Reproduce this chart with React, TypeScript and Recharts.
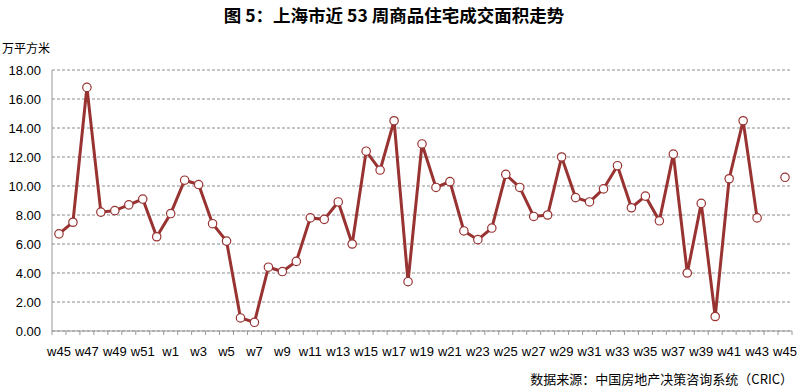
import React from "react";
import { ComposedChart, Line, XAxis, YAxis, CartesianGrid } from "recharts";

const weeks = [
  "w45", "w46", "w47", "w48", "w49", "w50", "w51", "w52",
  "w1", "w2", "w3", "w4", "w5", "w6", "w7", "w8", "w9", "w10",
  "w11", "w12", "w13", "w14", "w15", "w16", "w17", "w18", "w19", "w20",
  "w21", "w22", "w23", "w24", "w25", "w26", "w27", "w28", "w29", "w30",
  "w31", "w32", "w33", "w34", "w35", "w36", "w37", "w38", "w39", "w40",
  "w41", "w42", "w43", "w44", "w45",
];

const areas: (number | null)[] = [
  6.7, 7.5, 16.8, 8.2, 8.3, 8.7, 9.1, 6.5,
  8.1, 10.4, 10.1, 7.4, 6.2, 0.9, 0.6, 4.4, 4.1, 4.8,
  7.8, 7.7, 8.9, 6.0, 12.4, 11.1, 14.5, 3.4, 12.9, 9.9,
  10.3, 6.9, 6.3, 7.1, 10.8, 9.9, 7.9, 8.0, 12.0, 9.2,
  8.9, 9.8, 11.4, 8.5, 9.3, 7.6, 12.2, 4.0, 8.8, 1.0,
  10.5, 14.5, 7.8, null, 10.6,
];

const yTicks = [0, 2, 4, 6, 8, 10, 12, 14, 16, 18];

const data = weeks.map((w, i) => ({ week: w, pos: i + 0.5, area: areas[i] }));
// boundaries (integers) and category centres (halves)
const xTicks: number[] = [];
for (let i = 0; i <= weeks.length * 2; i++) xTicks.push(i / 2);

const lineColor = "#983332";
const axisColor = "#999999";
const font = "'Liberation Sans', Arial, sans-serif";
const cjk = "'Noto Sans CJK SC', 'Liberation Sans', sans-serif";

const WeekTick = (props: any) => {
  const { x, y, payload } = props;
  const v = payload.value as number;
  if (Number.isInteger(v)) {
    return <line x1={x} x2={x} y1={y} y2={y + 4} stroke={axisColor} strokeWidth={1} />;
  }
  const idx = Math.floor(v);
  if (idx % 2 !== 0) return <g />;
  return (
    <text x={x} y={y + 25} textAnchor="middle" fontFamily={font} fontSize={13} fill="#000">
      {weeks[idx]}
    </text>
  );
};

export default function App() {
  return (
    <div style={{ position: "absolute", left: 0, top: 0, width: 800, height: 389, background: "#fff" }}>
      <div
        style={{
          position: "absolute",
          left: 0,
          top: 3,
          width: 788,
          textAlign: "center",
          fontFamily: cjk,
          fontWeight: 700,
          fontSize: 17.5,
          lineHeight: "24px",
          color: "#000",
        }}
      >
        图 5：上海市近 53 周商品住宅成交面积走势
      </div>
      <div
        style={{
          position: "absolute",
          left: 2,
          top: 39,
          fontFamily: cjk,
          fontSize: 12,
          lineHeight: "18px",
          color: "#000",
        }}
      >
        万平方米
      </div>
      <ComposedChart
        width={800}
        height={389}
        data={data}
        margin={{ top: 70, right: 8, bottom: 0, left: 0 }}
      >
        <CartesianGrid vertical={false} stroke="#8c8c8c" strokeDasharray="3 2" />
        <XAxis
          dataKey="pos"
          type="number"
          domain={[0, weeks.length]}
          ticks={xTicks}
          interval={0}
          height={58}
          tickSize={0}
          tickMargin={0}
          tickLine={false}
          axisLine={{ stroke: axisColor }}
          tick={<WeekTick />}
        />
        <YAxis
          domain={[0, 18]}
          ticks={yTicks}
          width={52}
          tickFormatter={(v: number) => v.toFixed(2)}
          axisLine={{ stroke: axisColor }}
          tickLine={false}
          tickSize={0}
          tickMargin={11}
          tick={{ fontFamily: font, fontSize: 13, fill: "#000" }}
        />
        <Line
          type="linear"
          dataKey="area"
          stroke={lineColor}
          strokeWidth={3}
          dot={{ r: 4.2, fill: "#fff", stroke: lineColor, strokeWidth: 1.2 }}
          activeDot={false}
          isAnimationActive={false}
        />
      </ComposedChart>
      <div
        style={{
          position: "absolute",
          right: 7,
          top: 369,
          fontFamily: cjk,
          fontSize: 13,
          lineHeight: "20px",
          color: "#000",
        }}
      >
        数据来源：中国房地产决策咨询系统（CRIC）
      </div>
    </div>
  );
}
